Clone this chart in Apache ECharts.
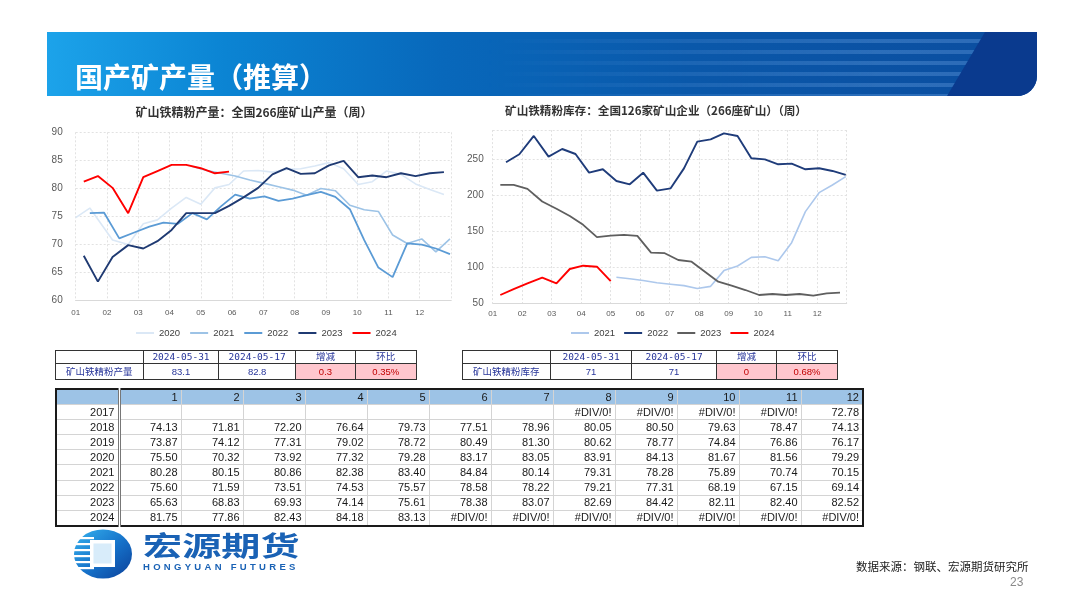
<!DOCTYPE html>
<html><head><meta charset="utf-8">
<script src="https://cdn.jsdelivr.net/npm/echarts@6/dist/echarts.min.js"></script>
<style>
html,body{margin:0;padding:0;background:#fff;}
#page{position:relative;width:1080px;height:608px;overflow:hidden;background:#fff;font-family:'Noto Sans CJK SC','Liberation Sans',sans-serif;}
#chart{position:absolute;left:0;top:0;width:1080px;height:608px;}
.banner{position:absolute;left:47px;top:32px;width:990px;height:64px;background:linear-gradient(90deg,#1ca3ea 0%,#0b84d3 18%,#0868bb 40%,#0a58aa 65%,#0b4d9f 100%);border-bottom-right-radius:20px;overflow:hidden;}
.stripes{position:absolute;left:440px;top:0;width:520px;height:64px;background:repeating-linear-gradient(180deg,rgba(255,255,255,0) 0px,rgba(255,255,255,0) 7px,rgba(110,165,230,0.34) 7px,rgba(110,165,230,0.34) 11px);-webkit-mask-image:linear-gradient(90deg,transparent 0%,#000 75%);mask-image:linear-gradient(90deg,transparent 0%,#000 75%);}
.dark{position:absolute;right:0;top:0;width:90px;height:64px;background:#0a3a8e;clip-path:polygon(38px 0,100% 0,100% 100%,0 100%);}
.btitle{position:absolute;left:75px;top:59px;height:34px;line-height:34px;color:#fff;font-size:28px;font-weight:bold;white-space:nowrap;}
table{border-collapse:collapse;table-layout:fixed;position:absolute;}
#bt{left:55px;top:388px;width:807px;border:2px solid #1a1a1a;font-family:'Liberation Sans',Arial,sans-serif;font-size:11px;color:#1a1a1a;}
#bt td{border:1px solid #d4d4d4;height:14.1px;padding:0 3px 0 0;text-align:right;line-height:13px;white-space:nowrap;overflow:hidden;}
#bt tr.hd td{background:#9dc3e6;}
#bt td.yc{border-right:3px double #777;}
.st{border:1.5px solid #111;font-size:9.5px;color:#27359a;}
.st td{border:1px solid #333;text-align:center;padding:0;white-space:nowrap;overflow:hidden;}
.st tr.r1 td{height:11.5px;line-height:11px;}
.st tr.r2 td{height:15.5px;line-height:15px;}
.st .dt{font-family:'DejaVu Sans Mono',monospace;font-size:9.5px;}
.st .cn{font-family:'Noto Sans CJK SC',sans-serif;font-size:9.5px;}
.st .num{font-family:'Liberation Sans',Arial,sans-serif;font-size:9.5px;}
.st .pk{background:#ffc7ce;color:#c00000;}
.logoT{position:absolute;left:143px;top:528px;font-size:27px;font-weight:bold;color:#1a62b5;transform:scaleX(1.45);transform-origin:left top;white-space:nowrap;line-height:34px;}
.logoE{position:absolute;left:143px;top:561px;font-family:'Liberation Sans',Arial,sans-serif;font-size:9.5px;font-weight:bold;color:#1a62b5;letter-spacing:3.3px;white-space:nowrap;}
.src{position:absolute;left:856px;top:558px;font-size:11.5px;color:#222;white-space:nowrap;}
.pg{position:absolute;left:1010px;top:575px;font-family:'Liberation Sans',Arial,sans-serif;font-size:12px;color:#8a8a8a;}
</style></head>
<body><div id="page">
<div id="chart"></div>
<div class="banner"><div class="stripes"></div><div class="dark"></div></div>
<div class="btitle" id="btitle"></div>
<table id="st1" class="st" style="left:55px;top:350px;width:361px;"></table>
<table id="st2" class="st" style="left:462px;top:350px;width:375px;"></table>
<table id="bt"></table>
<svg style="position:absolute;left:72px;top:528px" width="62" height="52" viewBox="0 0 62 52">
 <defs><linearGradient id="lg" x1="0" y1="0" x2="1" y2="1"><stop offset="0" stop-color="#36b3ef"/><stop offset="0.55" stop-color="#1570c8"/><stop offset="1" stop-color="#0b3f98"/></linearGradient></defs>
 <ellipse cx="31" cy="26" rx="29" ry="24.5" fill="url(#lg)"/>
 <g fill="#fff"><rect x="0" y="9" width="22" height="2.2"/><rect x="0" y="15" width="20" height="2.2"/><rect x="0" y="21" width="19" height="2.2"/><rect x="0" y="27" width="19" height="2.2"/><rect x="0" y="33" width="20" height="2.2"/><rect x="0" y="39" width="22" height="2.2"/></g>
 <rect x="18" y="12" width="25" height="27" fill="#fff"/>
 <rect x="21.5" y="15.5" width="18" height="20" fill="#d8ecfa"/>
</svg>
<div class="logoT" id="logoT"></div>
<div class="logoE" id="logoE"></div>
<div class="src" id="src"></div>
<div class="pg" id="pg"></div>
</div>
<script>
// ---------- text ----------
const slideTitle = '国产矿产量（推算）';
const prodTitle = '矿山铁精粉产量：全国266座矿山产量（周）';
const invTitle = '矿山铁精粉库存：全国126家矿山企业（266座矿山）（周）';
const monthLabels = ['01','02','03','04','05','06','07','08','09','10','11','12'];
const logoCn = '宏源期货';
const logoEn = 'HONGYUAN FUTURES';
const sourceText = '数据来源：钢联、宏源期货研究所';
const pageNo = '23';

// ---------- weekly production (万吨) ----------
const prod2020 = [74.8, 76.5, 70.8, 70.0, 73.7, 74.4, 76.5, 78.4, 77.2, 80.1, 80.7, 83.1, 83.2, 82.9, 83.4, 83.5, 84.0, 84.6, 83.5, 80.7, 81.2, 83.1, 82.5, 80.8, 79.8, 78.9];
const prod2021 = [83.9, 83.2, 82.7, 82.2, 81.5, 80.9, 80.3, 79.7, 78.8, 80.0, 79.6, 77.0, 76.2, 75.9, 71.7, 70.2, 71.0, 68.7, 71.0];
const prod2022 = [75.6, 75.7, 71.1, 72.2, 73.2, 73.9, 73.7, 75.6, 74.5, 76.8, 78.9, 78.2, 78.6, 77.8, 78.2, 78.8, 79.4, 78.5, 76.3, 70.8, 65.9, 64.2, 70.2, 70.0, 69.3, 68.3];
const prod2023 = [68.0, 63.4, 67.8, 69.9, 69.3, 70.6, 72.6, 75.6, 75.6, 75.6, 76.9, 78.4, 80.1, 82.5, 83.6, 82.6, 82.7, 84.1, 84.9, 82.0, 82.3, 82.0, 82.7, 82.2, 82.7, 82.9];
const prod2024 = [81.2, 82.2, 80.1, 75.6, 82.0, 83.1, 84.2, 84.2, 83.6, 82.7, 83.0];
// observation dates (MM-DD)
const prodDates2020 = ['01-01', '01-15'];
const prodStart2020 = '02-06', prodStart2021 = '04-23', prodStart2022 = '01-15', prodStart2023 = '01-09', prodStart2024 = '01-09';

// ---------- inventory (万吨) ----------
const inv2021 = [86, 84, 81.5, 78.5, 76.5, 74.5, 70.5, 73.5, 95.3, 101.7, 113.7, 114.6, 109, 134, 177, 203.3, 214, 225.5];
const inv2022 = [245.4, 256.5, 281.9, 253.2, 263.8, 256.9, 231.0, 235.7, 219.5, 214.9, 231.0, 206.1, 209.3, 237.0, 274.0, 277.2, 285.5, 281.8, 250.9, 249.5, 242.6, 243.5, 235.7, 237.1, 233.4, 227.9];
const inv2023 = [214, 214, 208.5, 191, 181, 171, 158.7, 141.6, 143.9, 144.8, 143.4, 120.3, 119.4, 110, 107.7, 93.8, 79.9, 74.4, 68.4, 61.5, 62.9, 61.5, 62.9, 60.6, 63.8, 64.8];
const inv2024 = [61.5, 69.5, 77.5, 85.5, 77.7, 97.5, 102.1, 100.7, 80.8];
const invStart2021 = '05-07', invStart2022 = '01-15', invStart2023 = '01-09', invStart2024 = '01-09';

// ---------- summary tables ----------
const sumHead = ['', '2024-05-31', '2024-05-17', '增减', '环比'];
const prodSummary = ['矿山铁精粉产量', '83.1', '82.8', '0.3', '0.35%'];
const invSummary = ['矿山铁精粉库存', '71', '71', '0', '0.68%'];

// ---------- monthly table ----------
const tableCols = ['1','2','3','4','5','6','7','8','9','10','11','12'];
const tableYears = ['2017','2018','2019','2020','2021','2022','2023','2024'];
const t2017 = ['', '', '', '', '', '', '', '#DIV/0!', '#DIV/0!', '#DIV/0!', '#DIV/0!', '72.78'];
const t2018 = ['74.13','71.81','72.20','76.64','79.73','77.51','78.96','80.05','80.50','79.63','78.47','74.13'];
const t2019 = ['73.87','74.12','77.31','79.02','78.72','80.49','81.30','80.62','78.77','74.84','76.86','76.17'];
const t2020 = ['75.50','70.32','73.92','77.32','79.28','83.17','83.05','83.91','84.13','81.67','81.56','79.29'];
const t2021 = ['80.28','80.15','80.86','82.38','83.40','84.84','80.14','79.31','78.28','75.89','70.74','70.15'];
const t2022 = ['75.60','71.59','73.51','74.53','75.57','78.58','78.22','79.21','77.31','68.19','67.15','69.14'];
const t2023 = ['65.63','68.83','69.93','74.14','75.61','78.38','83.07','82.69','84.42','82.11','82.40','82.52'];
const t2024 = ['81.75','77.86','82.43','84.18','83.13','#DIV/0!','#DIV/0!','#DIV/0!','#DIV/0!','#DIV/0!','#DIV/0!','#DIV/0!'];
const tableRows = [t2017, t2018, t2019, t2020, t2021, t2022, t2023, t2024];

// ---------- date helpers ----------
const DIM = [31,28,31,30,31,30,31,31,30,31,30,31];
function mdToDay(md){ const p = md.split('-').map(Number); let s = 0; for (let i = 0; i < p[0]-1; i++) s += DIM[i]; return s + p[1] - 1; }
function dayToMonth(doy){ let m = 0; while (doy >= DIM[m]) { doy -= DIM[m]; m++; } return m + 1 + doy / DIM[m]; }
function biweekly(start, n){ const s = mdToDay(start); return Array.from({length:n}, (_, i) => dayToMonth(s + 14*i)); }
function zip(xs, ys){ return ys.map((v, i) => [xs[i], v]); }

const prodX2020 = prodDates2020.map(d => dayToMonth(mdToDay(d))).concat(biweekly(prodStart2020, prod2020.length - prodDates2020.length));

const CJK = "'Noto Sans CJK SC', sans-serif";
const NUM = "'Liberation Sans', Arial, sans-serif";

function mkLine(name, data, color, width, xi, z){
  return {name, type:'line', xAxisIndex:xi, yAxisIndex:xi, data, symbol:'none', showSymbol:false,
    lineStyle:{color, width}, itemStyle:{color}, z, silent:true, animation:false};
}
const series = [
  mkLine('2020', zip(prodX2020, prod2020), '#dbe8f6', 1.6, 0, 2),
  mkLine('2021', zip(biweekly(prodStart2021, prod2021.length), prod2021), '#9dc3e6', 1.6, 0, 3),
  mkLine('2022', zip(biweekly(prodStart2022, prod2022.length), prod2022), '#5b9bd5', 1.8, 0, 4),
  mkLine('2023', zip(biweekly(prodStart2023, prod2023.length), prod2023), '#1f3a72', 1.9, 0, 5),
  mkLine('2024', zip(biweekly(prodStart2024, prod2024.length), prod2024), '#ff0000', 1.9, 0, 6),
  mkLine('库存2021', zip(biweekly(invStart2021, inv2021.length), inv2021), '#adc8ec', 1.6, 1, 3),
  mkLine('库存2022', zip(biweekly(invStart2022, inv2022.length), inv2022), '#1f3c7a', 1.9, 1, 4),
  mkLine('库存2023', zip(biweekly(invStart2023, inv2023.length), inv2023), '#5f5f5f', 1.8, 1, 5),
  mkLine('库存2024', zip(biweekly(invStart2024, inv2024.length), inv2024), '#ff0000', 1.9, 1, 6)
];

function xAx(gi, margin){
  return {gridIndex:gi, type:'value', min:1, max:13, interval:1,
    axisLine:{show:true, lineStyle:{color:'#d9d9d9', width:1}}, axisTick:{show:false},
    splitLine:{show:true, lineStyle:{type:[2,2], color:'#e2e2e2', width:1}},
    axisLabel:{formatter: v => (v >= 1 && v <= 12) ? monthLabels[v-1] : '', fontSize:8, color:'#595959', margin, fontFamily:NUM}};
}
const option = {
  animation:false,
  grid:[
    {left:75.7, top:132.3, width:375.3, height:168.4},
    {left:492.7, top:130.1, width:354, height:173.2}
  ],
  xAxis:[xAx(0, 8.5), xAx(1, 6)],
  yAxis:[
    {gridIndex:0, type:'value', min:60, max:90, interval:5, axisLine:{show:false}, axisTick:{show:false},
     splitLine:{lineStyle:{type:[2,2], color:'#e2e2e2'}},
     axisLabel:{fontSize:10, color:'#595959', margin:13, fontFamily:NUM}},
    {gridIndex:1, type:'value', min:50, max:290, interval:50, axisLine:{show:false}, axisTick:{show:false},
     splitLine:{lineStyle:{type:[2,2], color:'#e2e2e2'}},
     axisLabel:{fontSize:10, color:'#595959', margin:9, fontFamily:NUM, formatter: v => (v % 50 === 0 ? String(v) : '')}}
  ],
  legend:[
    {data:['2020','2021','2022','2023','2024'], left:131, top:323, icon:'rect', itemWidth:18, itemHeight:2, itemGap:10,
     textStyle:{fontSize:9.5, color:'#404040', fontFamily:NUM}, selectedMode:false},
    {data:['库存2021','库存2022','库存2023','库存2024'], left:566, top:323, icon:'rect', itemWidth:18, itemHeight:2, itemGap:9,
     formatter: n => n.slice(-4), textStyle:{fontSize:9.5, color:'#404040', fontFamily:NUM}, selectedMode:false}
  ],
  graphic:[
    {type:'text', x:254, y:112, style:{text:prodTitle, fontSize:12, fontWeight:'bold', fill:'#333', align:'center', verticalAlign:'middle', fontFamily:CJK}},
    {type:'text', x:656, y:111, style:{text:invTitle, fontSize:11.6, fontWeight:'bold', fill:'#333', align:'center', verticalAlign:'middle', fontFamily:CJK}}
  ],
  series
};
echarts.init(document.getElementById('chart'), null, {renderer:'canvas'}).setOption(option);

// ---------- HTML parts ----------
document.getElementById('btitle').textContent = slideTitle;
document.getElementById('logoT').textContent = logoCn;
document.getElementById('logoE').textContent = logoEn;
document.getElementById('src').textContent = sourceText;
document.getElementById('pg').textContent = pageNo;

function buildSummary(id, row, widths){
  const t = document.getElementById(id);
  let h = '<colgroup>' + widths.map(w => '<col style="width:' + w + 'px">').join('') + '</colgroup>';
  h += '<tr class="r1">' + sumHead.map((c, i) => '<td class="' + (i === 1 || i === 2 ? 'dt' : 'cn') + '">' + c + '</td>').join('') + '</tr>';
  h += '<tr class="r2">' + row.map((c, i) => '<td class="' + (i === 0 ? 'cn' : 'num') + (i >= 3 ? ' pk' : '') + '">' + c + '</td>').join('') + '</tr>';
  t.innerHTML = h;
}
buildSummary('st1', prodSummary, [87.7, 75.6, 76.7, 60, 60.7]);
buildSummary('st2', invSummary, [87.7, 81.7, 84.3, 60.7, 60.3]);

(function(){
  const t = document.getElementById('bt');
  let h = '<colgroup><col style="width:63px">' + tableCols.map(() => '<col style="width:62px">').join('') + '</colgroup>';
  h += '<tr class="hd"><td class="yc"></td>' + tableCols.map(c => '<td>' + c + '</td>').join('') + '</tr>';
  tableRows.forEach((r, i) => {
    h += '<tr><td class="yc">' + tableYears[i] + '</td>' + r.map(c => '<td>' + c + '</td>').join('') + '</tr>';
  });
  t.innerHTML = h;
})();
</script>
</body></html>
